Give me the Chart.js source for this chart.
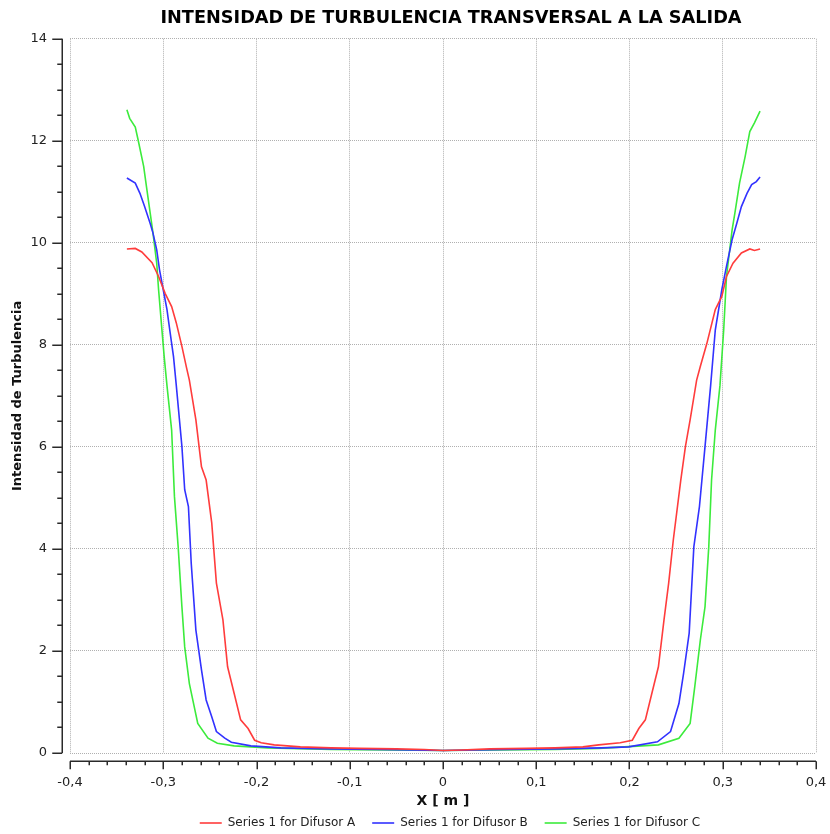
<!DOCTYPE html>
<html>
<head>
<meta charset="utf-8">
<script src="https://cdn.jsdelivr.net/npm/chart.js@4/dist/chart.umd.min.js"></script>
<style>
  html, body { margin: 0; padding: 0; background: #ffffff; }
  #wrap { width: 830px; height: 834px; }
</style>
</head>
<body>
<div id="wrap"><canvas id="c" width="830" height="834"></canvas></div>
<script>
const TITLE = 'INTENSIDAD DE TURBULENCIA TRANSVERSAL A LA SALIDA';
const X_TITLE = 'X [ m ]';
const Y_TITLE = 'Intensidad de Turbulencia';
const SERIES_NAMES = ['Series 1 for Difusor A', 'Series 1 for Difusor B', 'Series 1 for Difusor C'];
const X_MIN = -0.4, X_MAX = 0.4, X_STEP = 0.1;
const Y_MIN = 0, Y_MAX = 14, Y_STEP = 2;

// Difusor A (red)
const xA = [-0.339,-0.330,-0.323,-0.312,-0.305,-0.298,-0.291,-0.286,-0.280,-0.275,-0.272,-0.265,-0.259,-0.254,-0.248,-0.243,-0.236,-0.231,-0.224,-0.217,-0.209,-0.202,-0.195,-0.181,-0.153,-0.120,-0.090,-0.050,-0.020,0.000,0.020,0.050,0.090,0.120,0.150,0.167,0.190,0.203,0.210,0.217,0.224,0.231,0.237,0.242,0.247,0.255,0.260,0.265,0.272,0.276,0.283,0.292,0.299,0.304,0.311,0.320,0.329,0.334,0.340];
const yA = [9.88,9.89,9.82,9.61,9.34,9.01,8.75,8.43,7.97,7.55,7.31,6.53,5.61,5.35,4.51,3.33,2.61,1.69,1.17,0.65,0.48,0.25,0.20,0.16,0.12,0.10,0.09,0.08,0.07,0.05,0.06,0.08,0.09,0.10,0.12,0.16,0.20,0.25,0.48,0.65,1.17,1.69,2.61,3.33,4.18,5.35,6.01,6.53,7.31,7.58,8.03,8.69,8.95,9.34,9.60,9.80,9.88,9.85,9.88];

// Difusor B (blue)
const xB = [-0.339,-0.330,-0.325,-0.320,-0.314,-0.311,-0.307,-0.304,-0.300,-0.296,-0.293,-0.289,-0.286,-0.280,-0.277,-0.273,-0.270,-0.265,-0.259,-0.254,-0.248,-0.243,-0.234,-0.227,-0.206,-0.174,-0.120,-0.070,0.000,0.070,0.120,0.170,0.199,0.230,0.244,0.253,0.258,0.264,0.269,0.275,0.281,0.287,0.292,0.299,0.304,0.310,0.315,0.320,0.326,0.331,0.336,0.340];
const yB = [11.27,11.17,10.97,10.71,10.38,10.19,9.86,9.47,9.08,8.69,8.29,7.77,7.20,6.01,5.16,4.83,3.72,2.41,1.63,1.04,0.71,0.42,0.29,0.21,0.14,0.10,0.08,0.07,0.05,0.07,0.08,0.10,0.12,0.22,0.42,0.97,1.56,2.35,4.04,4.83,6.01,7.20,8.29,9.08,9.54,10.06,10.38,10.71,10.97,11.14,11.20,11.29];

// Difusor C (green)
const xC = [-0.339,-0.336,-0.330,-0.327,-0.321,-0.318,-0.314,-0.311,-0.307,-0.305,-0.302,-0.299,-0.296,-0.291,-0.288,-0.284,-0.280,-0.277,-0.272,-0.263,-0.252,-0.242,-0.224,-0.188,-0.120,-0.060,0.000,0.060,0.120,0.167,0.231,0.253,0.265,0.270,0.276,0.281,0.285,0.288,0.292,0.297,0.301,0.304,0.310,0.313,0.318,0.324,0.329,0.334,0.340];
const yC = [12.61,12.44,12.27,12.02,11.50,11.10,10.58,10.19,9.60,9.08,8.42,7.77,7.20,6.33,5.03,4.04,2.87,2.08,1.36,0.58,0.29,0.19,0.14,0.10,0.07,0.06,0.05,0.06,0.07,0.09,0.16,0.29,0.58,1.30,2.22,2.87,4.04,5.35,6.33,7.20,8.29,9.34,10.25,10.58,11.17,11.69,12.18,12.35,12.58];

const COLORS = ['rgb(255,60,60)', 'rgb(50,50,255)', 'rgb(60,235,60)'];
const FONT = 'DejaVu Sans';

function pts(xs, ys) { return xs.map((x, i) => ({ x: x, y: ys[i] })); }
function fmt(v) {
  const r = Math.round(v * 10) / 10;
  if (Math.abs(r) < 1e-9) return '0';
  return r.toFixed(1).replace('.', ',');
}

// shift title and legend horizontally (reference centres them right of the canvas centre)
const shiftBoxes = {
  id: 'shiftBoxes',
  afterLayout(chart) {
    if (chart.titleBlock) { chart.titleBlock.left += 43; chart.titleBlock.right += 43; }
    if (chart.legend) { chart.legend.left += 42; chart.legend.right += 42; }
  }
};

const offsetAxes = {
  id: 'offsetAxes',
  afterDraw(chart) {
    const ctx = chart.ctx;
    const { left, bottom } = chart.chartArea;
    const xs = chart.scales.x, ys = chart.scales.y;
    ctx.save();
    ctx.strokeStyle = '#2a2a2a';
    ctx.lineWidth = 1.5;
    const ax = Math.round(left - 8) + 0.25;
    const yTop = ys.getPixelForValue(Y_MAX), yBot = ys.getPixelForValue(Y_MIN);
    ctx.beginPath(); ctx.moveTo(ax, yTop); ctx.lineTo(ax, yBot); ctx.stroke();
    for (let k = 0; k <= (Y_MAX - Y_MIN) / 0.5 + 1e-9; k++) {
      const v = Y_MIN + k * 0.5;
      const p = Math.round(ys.getPixelForValue(v)) + 0.25;
      const len = (k % 4 === 0) ? 10 : 5;
      ctx.beginPath(); ctx.moveTo(ax - len, p); ctx.lineTo(ax, p); ctx.stroke();
    }
    const ay = Math.round(bottom + 8) + 0.25;
    const xL = xs.getPixelForValue(X_MIN), xR = xs.getPixelForValue(X_MAX);
    ctx.beginPath(); ctx.moveTo(xL, ay); ctx.lineTo(xR, ay); ctx.stroke();
    const n = Math.round((X_MAX - X_MIN) / 0.02);
    for (let k = 0; k <= n; k++) {
      const v = X_MIN + k * 0.02;
      const p = Math.round(xs.getPixelForValue(v)) + 0.25;
      const len = (k % 5 === 0) ? 8 : 4;
      ctx.beginPath(); ctx.moveTo(p, ay); ctx.lineTo(p, ay + len); ctx.stroke();
    }
    ctx.restore();
  }
};

new Chart(document.getElementById('c'), {
  type: 'line',
  data: {
    datasets: [
      { label: SERIES_NAMES[0], data: pts(xA, yA), borderColor: COLORS[0], backgroundColor: COLORS[0], borderWidth: 1.6 },
      { label: SERIES_NAMES[1], data: pts(xB, yB), borderColor: COLORS[1], backgroundColor: COLORS[1], borderWidth: 1.6 },
      { label: SERIES_NAMES[2], data: pts(xC, yC), borderColor: COLORS[2], backgroundColor: COLORS[2], borderWidth: 1.6 }
    ]
  },
  options: {
    responsive: false,
    animation: false,
    elements: {
      line: { tension: 0, fill: false },
      point: { radius: 0, hoverRadius: 0 }
    },
    layout: { padding: { left: 0, right: 14, top: 0, bottom: -5 } },
    plugins: {
      title: {
        display: true, text: TITLE, color: '#000',
        font: { family: FONT, size: 17.7, weight: 'bold' },
        padding: { top: 8, bottom: 9.5 }
      },
      legend: {
        position: 'bottom',
        labels: {
          usePointStyle: true, pointStyle: 'line', pointStyleWidth: 22,
          padding: 17, color: '#222',
          font: { family: FONT, size: 12 }
        }
      },
      tooltip: { enabled: false }
    },
    scales: {
      x: {
        type: 'linear', min: X_MIN, max: X_MAX,
        ticks: { stepSize: X_STEP, padding: 22, color: '#222', font: { family: FONT, size: 13 }, callback: (v) => fmt(v), maxRotation: 0, autoSkip: false },
        grid: { color: '#b0b0b0', lineWidth: 1, drawTicks: false, borderDash: [1, 1] },
        border: { display: false, dash: [1, 1] },
        title: { display: true, text: X_TITLE, color: '#111', font: { family: FONT, size: 14, weight: 'bold' }, padding: { top: 0, bottom: -10 } },
        afterFit(s) { s.height = 47; s.paddingLeft = 0; s.paddingRight = 0; }
      },
      y: {
        type: 'linear', min: Y_MIN, max: Y_MAX,
        ticks: { stepSize: Y_STEP, padding: 23, color: '#222', font: { family: FONT, size: 13 } },
        grid: { color: '#b0b0b0', lineWidth: 1, drawTicks: false, borderDash: [1, 1] },
        border: { display: false, dash: [1, 1] },
        title: { display: true, text: Y_TITLE, color: '#111', font: { family: FONT, size: 13, weight: 'bold' }, padding: { top: 10, bottom: 0 } },
        afterFit(s) { s.width = 70; s.paddingTop = 0; s.paddingBottom = 0; }
      }
    }
  },
  plugins: [shiftBoxes, offsetAxes]
});
</script>
</body>
</html>
